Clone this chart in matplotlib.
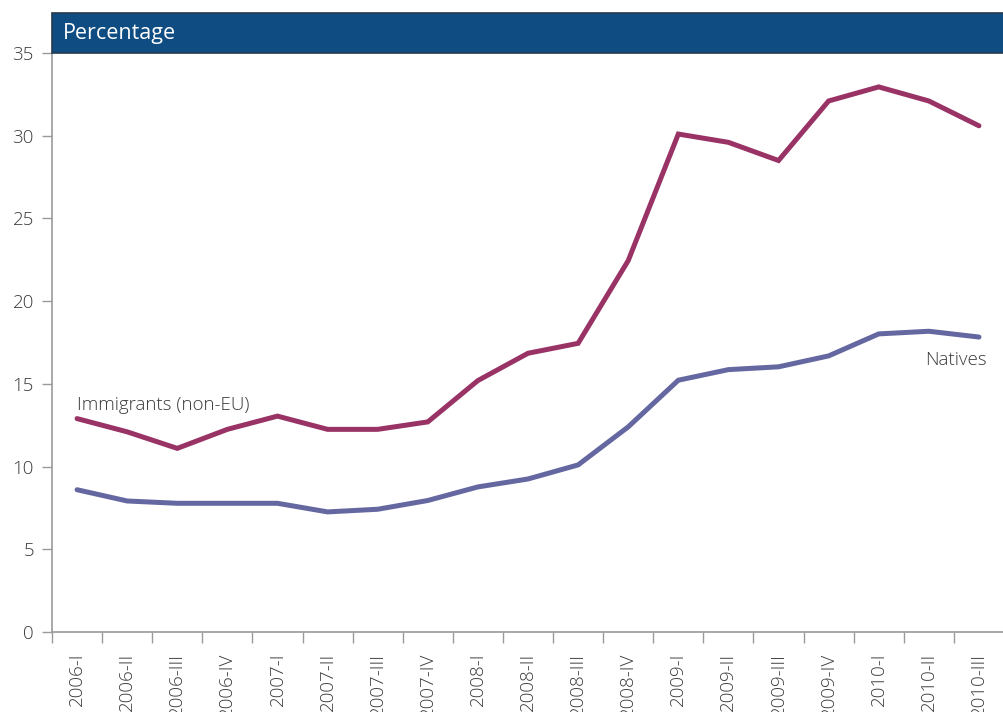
import matplotlib.pyplot as plt
import matplotlib.patches as mpatches

# quarters and series values (percent)
quarters = ['2006-I', '2006-II', '2006-III', '2006-IV',
            '2007-I', '2007-II', '2007-III', '2007-IV',
            '2008-I', '2008-II', '2008-III', '2008-IV',
            '2009-I', '2009-II', '2009-III', '2009-IV',
            '2010-I', '2010-II', '2010-III']
immigrants = [12.9, 12.1, 11.1, 12.25, 13.05, 12.25, 12.25, 12.7,
              15.2, 16.85, 17.45, 22.45, 30.1, 29.6, 28.5, 32.1,
              32.95, 32.1, 30.6]
natives = [8.6, 7.92, 7.78, 7.78, 7.78, 7.26, 7.42, 7.95,
           8.77, 9.25, 10.1, 12.4, 15.22, 15.86, 16.03, 16.69,
           18.02, 18.18, 17.83]
y_ticks = [0, 5, 10, 15, 20, 25, 30, 35]

plt.rcParams['font.family'] = ['Open Sans', 'DejaVu Sans']
plt.rcParams['font.weight'] = 'light'

W, H = 1004, 712
fig = plt.figure(figsize=(W / 100, H / 100), dpi=100)
ax = fig.add_axes([52 / W, (H - 632) / H, (W - 52) / W, 579 / H])

x = list(range(len(quarters)))
ax.plot(x, immigrants, color='#993366', lw=3.6, solid_capstyle='round', solid_joinstyle='miter')
ax.plot(x, natives, color='#6567A1', lw=3.6, solid_capstyle='round', solid_joinstyle='miter')

ax.set_xlim(-0.5, len(quarters) - 0.5)
ax.set_ylim(0, 35)

grey = '#9a9a9a'
txt = '#3a3a3a'
for s in ['top', 'right']:
    ax.spines[s].set_visible(False)
for s in ['left', 'bottom']:
    ax.spines[s].set_color(grey)
    ax.spines[s].set_linewidth(1.2)

ax.set_yticks(y_ticks)
ax.tick_params(axis='y', length=7, width=1, color=grey, labelsize=13.5, labelcolor=txt, pad=6)

# tick marks between quarters, labels centred on quarters
ax.set_xticks([i - 0.5 for i in range(len(quarters) + 1)])
ax.set_xticklabels([])
ax.tick_params(axis='x', which='major', length=8, width=1, color=grey)
ax.set_xticks(x, minor=True)
ax.set_xticklabels(quarters, minor=True, rotation=90, fontsize=13.5, color=txt)
ax.tick_params(axis='x', which='minor', length=0, pad=15)

ax.text(0.0, 13.7, 'Immigrants (non-EU)', fontsize=13.5, color=txt, ha='left', va='center')
ax.text(18.15, 16.45, 'Natives', fontsize=13.5, color=txt, ha='right', va='center')

# header bar
fig.patches.append(mpatches.Rectangle((52 / W, (H - 53) / H), (W - 52) / W, 40 / H,
                                      transform=fig.transFigure, facecolor='#0f4c81',
                                      edgecolor='#263a4d', linewidth=1.2))
fig.text(63 / W, (H - 33) / H, 'Percentage', color='white', fontsize=15.5,
         fontweight='normal', ha='left', va='center')

fig.savefig('out.png', dpi=100)
